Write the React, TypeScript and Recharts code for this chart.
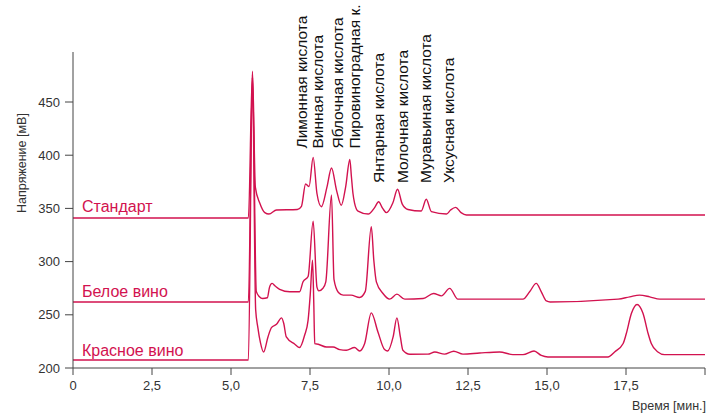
import React from "react";
import { LineChart, Line, XAxis, YAxis } from "recharts";

// Retention time [min] and voltage [mV]
const seriesNames = ["Стандарт", "Белое вино", "Красное вино"];

const standardTimes = [0, 5.55, 5.68, 5.77, 5.91, 6.07, 6.2, 6.44, 7.1, 7.23, 7.36, 7.47, 7.6, 7.72, 7.86, 8.04, 8.18, 8.34, 8.49, 8.63, 8.76, 8.81, 8.86, 8.91, 9.02, 9.34, 9.55, 9.67, 9.8, 9.92, 10.12, 10.27, 10.42, 10.6, 11.02, 11.18, 11.34, 11.82, 11.95, 12.11, 12.28, 12.45, 20];
const standardValues = [341, 341, 479, 370, 355, 346, 344.7, 348.5, 349, 352, 373, 370.5, 398, 364, 351.6, 370.5, 388, 367, 353, 370.5, 396, 380, 364, 355, 347.5, 344.7, 351, 356.3, 350, 346, 355, 368, 354, 349, 347.5, 358.6, 347, 344.7, 348.5, 351, 346, 343.8, 343.8];

const whiteTimes = [0, 5.55, 5.68, 5.8, 5.9, 6.0, 6.15, 6.22, 6.3, 6.4, 6.54, 6.86, 7.17, 7.28, 7.44, 7.6, 7.72, 7.78, 7.91, 8.0, 8.18, 8.26, 8.4, 8.55, 8.8, 9.07, 9.25, 9.44, 9.52, 9.6, 9.81, 10.02, 10.25, 10.5, 11.08, 11.41, 11.66, 11.92, 12.18, 14.24, 14.45, 14.66, 14.82, 14.98, 15.1, 17.25, 17.62, 17.93, 18.25, 18.57, 20];
const whiteValues = [262, 262, 476, 272, 267, 265.3, 266, 276, 279.5, 277, 274, 271.6, 271.6, 281, 286, 338, 276, 272.5, 275, 281, 362.6, 283, 271, 268.5, 268.5, 266.3, 272, 332.8, 301, 281, 270, 264.7, 269.4, 264.7, 265.3, 270, 267.8, 274.8, 264.7, 264.7, 271.6, 279.5, 271.6, 263, 262.1, 264.7, 266.9, 268.5, 266.9, 264.7, 264.7];

const redTimes = [0, 5.55, 5.68, 5.78, 5.85, 5.93, 6.03, 6.17, 6.28, 6.44, 6.6, 6.67, 6.75, 7.02, 7.17, 7.33, 7.44, 7.51, 7.58, 7.62, 7.65, 7.76, 8.02, 8.23, 8.44, 8.65, 8.91, 9.07, 9.23, 9.44, 9.65, 9.86, 9.96, 10.13, 10.25, 10.36, 10.44, 10.66, 11.23, 11.45, 11.76, 12.05, 12.34, 12.87, 13.5, 13.92, 14.24, 14.59, 14.82, 15.03, 16.93, 17.14, 17.41, 17.51, 17.67, 17.85, 18.04, 18.2, 18.3, 18.51, 18.72, 20];
const redValues = [207.5, 207.5, 473, 255, 238, 224, 215, 229.2, 238, 241.1, 247.1, 241.8, 229.2, 222.3, 219.2, 230.8, 245, 270, 301.4, 260.6, 223, 222.3, 219.8, 219.8, 217.3, 216.7, 219.2, 216, 223, 251.8, 233.9, 217.3, 216, 229.2, 247.1, 229.2, 216.7, 212.9, 213, 215.1, 213, 215.7, 213, 214.1, 215.1, 212.6, 212.6, 216, 211.8, 210.4, 210.4, 215.1, 223, 232.4, 251.2, 259.7, 251.2, 232.4, 223, 215.1, 212.6, 212.6];

const acidNames = ["Лимонная кислота", "Винная кислота", "Яблочная кислота", "Пировиноградная к.", "Янтарная кислота", "Молочная кислота", "Муравьиная кислота", "Уксусная кислота"];

const xTicks = [0, 2.5, 5, 7.5, 10, 12.5, 15, 17.5, 20];
const yTicks = [200, 250, 300, 350, 400, 450];

const toPoints = (ts: number[], vs: number[]) => ts.map((t, i) => ({ t, v: vs[i] }));
const seriesData = [
  toPoints(standardTimes, standardValues),
  toPoints(whiteTimes, whiteValues),
  toPoints(redTimes, redValues),
];

const RED = "#d2124f";
const INK = "#333";
const FONT = "'Liberation Sans', Arial, sans-serif";

// overlay text positions (px)
const seriesLabelPos = [
  { x: 82, y: 212 },
  { x: 82, y: 297 },
  { x: 82, y: 356 },
];
const acidLabelX = [306.5, 322.5, 343, 360, 384, 408, 431, 454];
const acidLabelY = [148.5, 148.5, 148.5, 148.5, 183, 183, 183, 183];

const fmtX = (v: number) => (v === 0 ? "0" : v === 20 ? "" : v.toFixed(1).replace(".", ","));

export default function App() {
  return (
    <div style={{ position: "absolute", left: 0, top: 0, width: 718, height: 418, fontFamily: FONT, background: "#fff" }}>
      <LineChart width={718} height={418} margin={{ top: 52, right: 13, bottom: 20, left: 0 }}>
        <XAxis
          type="number"
          dataKey="t"
          domain={[0, 20]}
          ticks={xTicks}
          tickFormatter={fmtX}
          height={30}
          tickSize={7}
          tickMargin={6}
          stroke="#444"
          tick={{ fill: INK, fontSize: 13 }}
          allowDataOverflow
        />
        <YAxis
          type="number"
          domain={[200, 497]}
          ticks={yTicks}
          width={73}
          tickSize={8}
          tickMargin={5}
          stroke="#444"
          tick={{ fill: INK, fontSize: 13 }}
          allowDataOverflow
        />
        {seriesData.map((d, i) => (
          <Line
            key={seriesNames[i]}
            data={d}
            dataKey="v"
            type="monotone"
            stroke={RED}
            strokeWidth={1.4}
            dot={false}
            activeDot={false}
            isAnimationActive={false}
          />
        ))}
      </LineChart>
      <svg width={718} height={418} style={{ position: "absolute", left: 0, top: 0, pointerEvents: "none" }}>
        {seriesNames.map((n, i) => (
          <text key={n} x={seriesLabelPos[i].x} y={seriesLabelPos[i].y} fill={RED} fontSize={16}>
            {n}
          </text>
        ))}
        {acidNames.map((n, i) => (
          <text
            key={n}
            x={acidLabelX[i]}
            y={acidLabelY[i]}
            transform={`rotate(-90 ${acidLabelX[i]} ${acidLabelY[i]})`}
            fill="#111"
            fontSize={15.5}
          >
            {n}
          </text>
        ))}
        <text x={26} y={163} transform="rotate(-90 26 163)" textAnchor="middle" fill={INK} fontSize={12.5}>
          Напряжение [мВ]
        </text>
        <text x={706} y={410} textAnchor="end" fill={INK} fontSize={12.5}>
          Время [мин.]
        </text>
      </svg>
    </div>
  );
}
